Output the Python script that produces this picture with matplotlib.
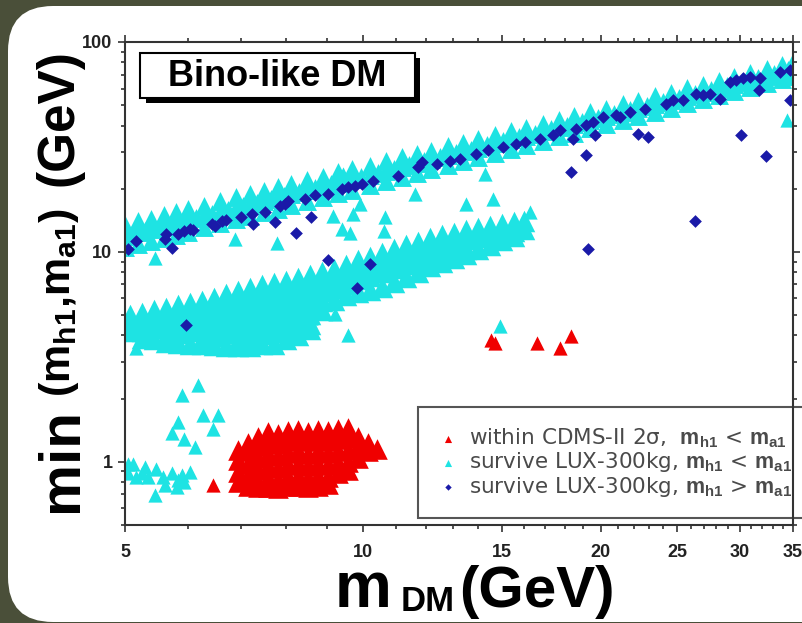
import numpy as np
import matplotlib
matplotlib.use("Agg")
import matplotlib.pyplot as plt
from matplotlib import rcParams
from matplotlib.patches import FancyBboxPatch, Rectangle
from matplotlib.transforms import IdentityTransform
from matplotlib.ticker import FixedLocator, NullFormatter, FuncFormatter, LogLocator

rcParams['font.family'] = ['Liberation Sans', 'DejaVu Sans']
rcParams['mathtext.fontset'] = 'custom'
rcParams['mathtext.rm'] = 'Liberation Sans'
rcParams['mathtext.bf'] = 'Liberation Sans:bold'
rcParams['mathtext.default'] = 'bf'

# upper resonance band (m_h1 < m_a1, cyan), three rows per column
up_x = [5.0, 5.2, 5.4, 5.6, 5.8, 6.0, 6.3, 6.6, 6.9, 7.2, 7.5, 7.8, 8.1, 8.5, 8.9,
        9.3, 9.7, 10.2, 10.7, 11.2, 11.7, 12.2, 12.8, 13.4, 14.0, 14.7, 15.4, 16.1,
        16.9, 17.7, 18.5, 19.4, 20.3, 21.3, 22.3, 23.4, 24.5, 25.7, 26.9, 28.2, 29.5,
        30.9, 32.4, 33.9, 35.0]
up_top = [13.5, 14.0, 14.4, 15.0, 15.5, 16.0, 16.6, 17.4, 18.2, 18.8, 19.6, 20.3, 21.0,
          22.0, 22.8, 23.9, 24.7, 25.8, 27.0, 28.2, 29.2, 30.4, 31.8, 33.0, 34.4, 36.0,
          37.6, 39.0, 40.8, 42.6, 44.2, 46.3, 48.2, 50.4, 52.6, 55.0, 57.4, 60.1, 62.6,
          65.5, 68.3, 71.3, 74.6, 77.8, 80.3]
up_mid = [11.9, 12.4, 12.8, 13.3, 13.7, 14.2, 14.8, 15.5, 16.2, 16.8, 17.5, 18.1, 18.8,
          19.7, 20.5, 21.4, 22.2, 23.3, 24.4, 25.5, 26.5, 27.6, 28.9, 30.1, 31.4, 32.9,
          34.4, 35.8, 37.5, 39.2, 40.8, 42.7, 44.5, 46.6, 48.6, 50.9, 53.1, 55.6, 58.0,
          60.7, 63.3, 66.1, 69.1, 72.1, 74.3]
up_bot = [10.5, 10.9, 11.3, 11.7, 12.1, 12.5, 13.1, 13.7, 14.3, 14.9, 15.5, 16.0, 16.7,
          17.5, 18.2, 19.0, 19.8, 20.8, 21.8, 22.8, 23.7, 24.7, 25.9, 27.1, 28.2, 29.6,
          31.0, 32.3, 33.9, 35.5, 37.0, 38.8, 40.5, 42.5, 44.4, 46.5, 48.6, 51.0, 53.3,
          55.8, 58.3, 60.9, 63.7, 66.4, 68.5]
# band centre read between the columns above
up_x2 = [5.1, 5.3, 5.5, 5.7, 5.9, 6.15, 6.45, 6.75, 7.05, 7.35, 7.65, 7.95, 8.3, 8.7,
         9.1, 9.5, 9.95, 10.45, 10.95, 11.45, 11.95, 12.5, 13.1, 13.7, 14.35, 15.05,
         15.75, 16.5, 17.3, 18.1, 18.95, 19.85, 20.8, 21.8, 22.85, 23.95, 25.1, 26.3,
         27.55, 28.85, 30.2, 31.65, 33.15, 34.45]
up_mid2 = [12.15, 12.6, 13.05, 13.5, 13.95, 14.5, 15.15, 15.85, 16.5, 17.15, 17.8, 18.45,
           19.25, 20.1, 20.95, 21.8, 22.75, 23.85, 24.95, 26.0, 27.05, 28.25, 29.5, 30.75,
           32.15, 33.65, 35.1, 36.65, 38.35, 40.0, 41.75, 43.6, 45.55, 47.6, 49.75, 52.0,
           54.35, 56.8, 59.35, 62.0, 64.7, 67.6, 70.6, 73.2]

# lower cyan band, y values per column
low_x = [5.07, 5.25, 5.44, 5.63, 5.84, 6.04, 6.26, 6.48, 6.71, 6.95, 7.20, 7.45, 7.72,
         7.99, 8.28, 8.57, 8.88, 9.19, 9.52, 9.86, 10.2, 10.57, 10.94, 11.33, 11.73,
         12.15, 12.58, 13.03, 13.49, 13.97, 14.47, 14.99, 15.52, 15.98]
low_y = [[4.98, 4.58, 4.20],
         [5.12, 4.68, 4.19, 3.91],
         [5.29, 4.83, 4.33, 3.84],
         [5.41, 4.94, 4.43, 3.96, 3.71],
         [5.60, 5.10, 4.58, 4.10, 3.68],
         [5.73, 5.22, 4.68, 4.19, 3.64],
         [5.86, 5.33, 4.78, 4.28, 3.83, 3.64],
         [6.06, 5.51, 4.94, 4.43, 3.96, 3.60],
         [6.27, 5.70, 5.10, 4.58, 4.10, 3.56],
         [6.48, 5.89, 5.27, 4.73, 4.24, 3.79, 3.56],
         [6.70, 6.09, 5.45, 4.89, 4.38, 3.92, 3.56],
         [6.93, 6.30, 5.64, 5.05, 4.53, 4.05, 3.64],
         [7.09, 6.44, 5.77, 5.16, 4.63, 4.15, 3.64],
         [7.25, 6.58, 5.89, 5.27, 4.73, 4.24, 3.84],
         [7.49, 6.80, 6.09, 5.45, 4.89, 4.38, 4.04],
         [7.74, 7.03, 6.30, 5.64, 5.05, 4.53, 4.27],
         [8.00, 7.27, 6.51, 5.83, 5.31],
         [8.27, 7.51, 6.73, 5.93],
         [8.66, 7.85, 7.03, 6.25],
         [9.16, 8.29, 7.43, 6.46],
         [9.46, 8.57, 7.68, 6.60],
         [9.89, 8.96, 8.02, 6.82],
         [10.33, 9.37, 8.38, 7.20],
         [10.80, 9.79, 8.77, 7.60],
         [11.17, 10.11, 9.06, 8.03],
         [11.68, 10.56, 9.47, 8.57],
         [12.06, 10.91, 9.79, 8.96],
         [12.36, 11.17, 10.0, 9.36],
         [12.72, 11.50, 10.33, 9.77],
         [13.01, 11.80, 10.31],
         [13.33, 12.06, 10.77],
         [13.64, 12.33, 11.38],
         [13.94, 12.60, 11.89],
         [14.09, 12.80]]

# scattered cyan points
cyan_x = [5.46, 6.88, 7.78, 9.17, 9.40, 9.63, 9.72, 9.91, 9.44, 9.22, 8.60, 9.58, 5.17,
          14.26, 11.63, 13.52, 14.61, 16.25, 10.67, 10.62, 14.90, 34.4,
          6.19, 5.90, 5.84, 5.73, 5.93, 6.13, 6.28, 6.56, 6.46,
          5.12, 5.05, 5.25, 5.35, 5.48, 5.59, 5.73, 5.90, 5.93, 5.81, 5.62, 5.46, 5.17,
          5.30, 5.04, 6.04, 5.84]
cyan_y = [9.39, 11.50, 11.08, 14.87, 12.84, 12.37, 15.15, 16.91, 23.54, 5.04, 4.85, 4.04, 3.48,
          23.54, 18.88, 16.91, 17.87, 15.42, 14.59, 12.60, 4.43, 42.4,
          2.33, 2.08, 1.55, 1.37, 1.29, 1.18, 1.67, 1.67, 1.44,
          0.98, 0.88, 0.88, 0.848, 0.929, 0.848, 0.88, 0.864, 0.802, 0.759, 0.774, 0.693, 0.848,
          0.946, 0.978, 0.896, 0.82]

# red: within CDMS-II 2 sigma
red_x = [6.95, 7.15, 7.36, 7.58, 7.80, 8.04, 8.28, 8.52, 8.77, 9.03, 9.30, 9.57, 9.86,
         10.15, 10.42]
red_y = [[1.14, 1.02, 0.896, 0.805],
         [1.23, 1.12, 0.978, 0.857, 0.771],
         [1.32, 1.19, 1.045, 0.916, 0.802, 0.755],
         [1.38, 1.25, 1.09, 0.957, 0.838, 0.755],
         [1.35, 1.22, 1.07, 0.936, 0.820, 0.747],
         [1.40, 1.26, 1.10, 0.967, 0.848, 0.763],
         [1.41, 1.27, 1.12, 0.978, 0.857, 0.771],
         [1.38, 1.25, 1.09, 0.957, 0.838, 0.755],
         [1.41, 1.27, 1.12, 0.978, 0.857, 0.763],
         [1.40, 1.26, 1.10, 0.967, 0.848, 0.780],
         [1.43, 1.29, 1.13, 0.989, 0.887],
         [1.45, 1.30, 1.14, 1.0, 0.915],
         [1.32, 1.19, 1.045],
         [1.23, 1.12],
         [1.15]]
red_extra_x = [6.46, 14.68, 14.54, 16.58, 17.74, 18.35]
red_extra_y = [0.776, 3.68, 3.82, 3.68, 3.48, 3.96]

# blue: m_h1 > m_a1
blue_x = [5.05, 5.17, 5.62, 5.64, 5.84, 5.93, 6.04, 6.10, 6.44, 6.50, 6.63, 6.72, 7.01,
          7.23, 7.26, 7.52, 7.75, 7.85, 7.96, 8.04, 8.44, 8.70, 9.04, 9.40, 9.58, 9.77,
          9.96, 10.30, 11.08, 11.74, 11.86, 12.39, 12.88, 13.26, 13.92, 14.40, 15.05,
          15.64, 16.03, 16.73, 17.40, 17.74, 18.62, 19.17, 19.54, 20.12, 20.92, 21.13,
          21.75, 22.72, 24.20, 24.67, 25.39, 26.41, 26.92, 27.45, 28.26, 29.09, 29.67,
          30.25, 30.84, 31.75, 33.66, 34.65,
          5.73, 8.24, 8.59, 9.04, 9.84, 10.20, 5.98, 18.35, 19.17, 18.44, 19.64, 19.26,
          22.28, 22.93, 26.28, 30.11, 32.39, 31.69, 34.65]
blue_y = [10.30, 11.29, 11.50, 12.15, 12.15, 12.60, 12.84, 12.70, 13.57, 13.32, 14.07,
          14.18, 14.59, 15.15, 13.57, 15.42, 13.81, 16.60, 16.91, 17.54, 17.87, 18.74,
          18.88, 19.95, 20.31, 20.69, 21.08, 21.86, 23.10, 25.31, 26.75, 26.28, 27.25,
          27.77, 29.35, 30.43, 31.55, 32.76, 33.34, 34.61, 35.89, 37.93, 38.65, 40.08,
          41.56, 43.91, 44.74, 43.91, 46.40, 48.18, 50.90, 52.79, 52.79, 56.83, 55.78,
          56.83, 53.78, 64.57, 65.79, 67.04, 67.78, 67.04, 72.10, 73.46,
          10.42, 12.37, 14.71, 9.13, 6.70, 8.73, 4.47, 23.95, 28.80, 34.61, 35.89, 10.30,
          36.58, 35.24, 14.07, 35.89, 28.49, 58.94, 52.79]

x_ticks = [5, 10, 15, 20, 25, 30, 35]
legend_labels = ["within CDMS-II 2\u03c3,  $m_{h1}$ < $m_{a1}$",
                 "survive LUX-300kg, $m_{h1}$ < $m_{a1}$",
                 "survive LUX-300kg, $m_{h1}$ > $m_{a1}$"]

CYAN = "#1ee3e3"
RED = "#f00000"
BLUE = "#1a1aa8"

W, H = 803, 623
fig = plt.figure(figsize=(W / 100, H / 100), dpi=100)
fig.patch.set_facecolor("#4a4f39")
fig.patches.append(FancyBboxPatch((8, 1), 850, 616, boxstyle="round,pad=0,rounding_size=45",
                                  transform=IdentityTransform(), fc="white", ec="none",
                                  zorder=-5, figure=fig))

ax = fig.add_axes([125 / W, (H - 525) / H, 668 / W, 483 / H])
ax.set_xscale("log")
ax.set_yscale("log")

up_bx = list(up_x) * 3 + list(up_x2)
up_by = list(up_top) + list(up_mid) + list(up_bot) + list(up_mid2)
low_bx = [x for x, col in zip(low_x, low_y) for _ in col]
low_by = [y for col in low_y for y in col]
rx = [x for x, col in zip(red_x, red_y) for _ in col]
ry = [y for col in red_y for y in col]

# dense regions use a larger glyph so the overlapping points read as solid areas
h_cyan = ax.scatter(cyan_x, cyan_y, marker="^", s=105, color=CYAN, linewidths=0, zorder=1)
ax.scatter(up_bx, up_by, marker="^", s=185, color=CYAN, linewidths=0, zorder=1)
ax.scatter(low_bx, low_by, marker="^", s=240, color=CYAN, linewidths=0, zorder=1)
h_red = ax.scatter(red_extra_x, red_extra_y, marker="^", s=105, color=RED, linewidths=0, zorder=1.2)
ax.scatter(rx, ry, marker="^", s=220, color=RED, linewidths=0, zorder=1.2)
h_blue = ax.scatter(blue_x, blue_y, marker="D", s=42, color=BLUE, linewidths=0, zorder=1.4)

ax.set_xlim(5, 35)
ax.set_ylim(0.5, 100)

ax.xaxis.set_major_locator(FixedLocator(x_ticks))
ax.xaxis.set_major_formatter(FuncFormatter(lambda v, p: "%d" % v))
ax.xaxis.set_minor_locator(FixedLocator([v for v in range(6, 35) if v not in x_ticks]))
ax.xaxis.set_minor_formatter(NullFormatter())
ax.yaxis.set_major_locator(FixedLocator([1, 10, 100]))
ax.yaxis.set_major_formatter(FuncFormatter(lambda v, p: "%g" % v))
ax.yaxis.set_minor_locator(LogLocator(base=10, subs=np.arange(2, 10)))
ax.yaxis.set_minor_formatter(NullFormatter())

for s in ax.spines.values():
    s.set_linewidth(1.5)
    s.set_color("#333333")
ax.tick_params(which="both", direction="out", top=True, right=True, color="#333333", width=1.2)
ax.tick_params(which="major", length=5)
ax.tick_params(which="minor", length=3)
ax.tick_params(axis="x", which="major", pad=9)
ax.tick_params(axis="y", which="major", pad=4)
for lab in ax.get_xticklabels() + ax.get_yticklabels():
    lab.set_fontsize(13)
    lab.set_fontweight("bold")
    lab.set_color("#222222")

# title box with drop shadow
fig.patches.append(Rectangle((146, H - 103), 274, 45, transform=IdentityTransform(),
                             fc="black", ec="none", zorder=5, figure=fig))
fig.patches.append(Rectangle((140, H - 98), 275, 45, transform=IdentityTransform(),
                             fc="white", ec="black", lw=1.5, zorder=6, figure=fig))
fig.text(277 / W, (H - 76) / H, "Bino-like DM", fontsize=26, fontweight="bold",
         ha="center", va="center", zorder=7)

# axis labels made of pieces of different sizes
fig.text(77 / W, (H - 460) / H, "min", fontsize=42, fontweight="bold", rotation=90,
         rotation_mode="anchor", ha="center", va="baseline")
fig.text(70 / W, (H - 303) / H, "(m$_{h1}$,m$_{a1}$)", fontsize=31, fontweight="bold",
         rotation=90, rotation_mode="anchor", ha="center", va="baseline")
fig.text(73 / W, (H - 118) / H, "(GeV)", fontsize=37, fontweight="bold", rotation=90,
         rotation_mode="anchor", ha="center", va="baseline")
fig.text(363 / W, (H - 607) / H, "m", fontsize=46, fontweight="bold", ha="center", va="baseline")
fig.text(428 / W, (H - 611) / H, "DM", fontsize=25, fontweight="bold", ha="center", va="baseline")
fig.text(537 / W, (H - 607) / H, "(GeV)", fontsize=42, fontweight="bold", ha="center", va="baseline")

leg = ax.legend([h_red, h_cyan, h_blue], legend_labels, loc="upper left",
                bbox_to_anchor=(418 / W, (H - 407) / H), bbox_transform=fig.transFigure,
                borderaxespad=0, prop={"family": "DejaVu Sans", "size": 15.5},
                markerscale=0.5, handlelength=1.0, handletextpad=0.45, labelspacing=0.02,
                borderpad=0.9, fancybox=False, framealpha=1, edgecolor="#555555")
leg.get_frame().set_linewidth(1.5)
leg.set_zorder(2)
for t in leg.get_texts():
    t.set_color("#4a4a4a")

fig.savefig("out.png", dpi=100, facecolor=fig.get_facecolor())
